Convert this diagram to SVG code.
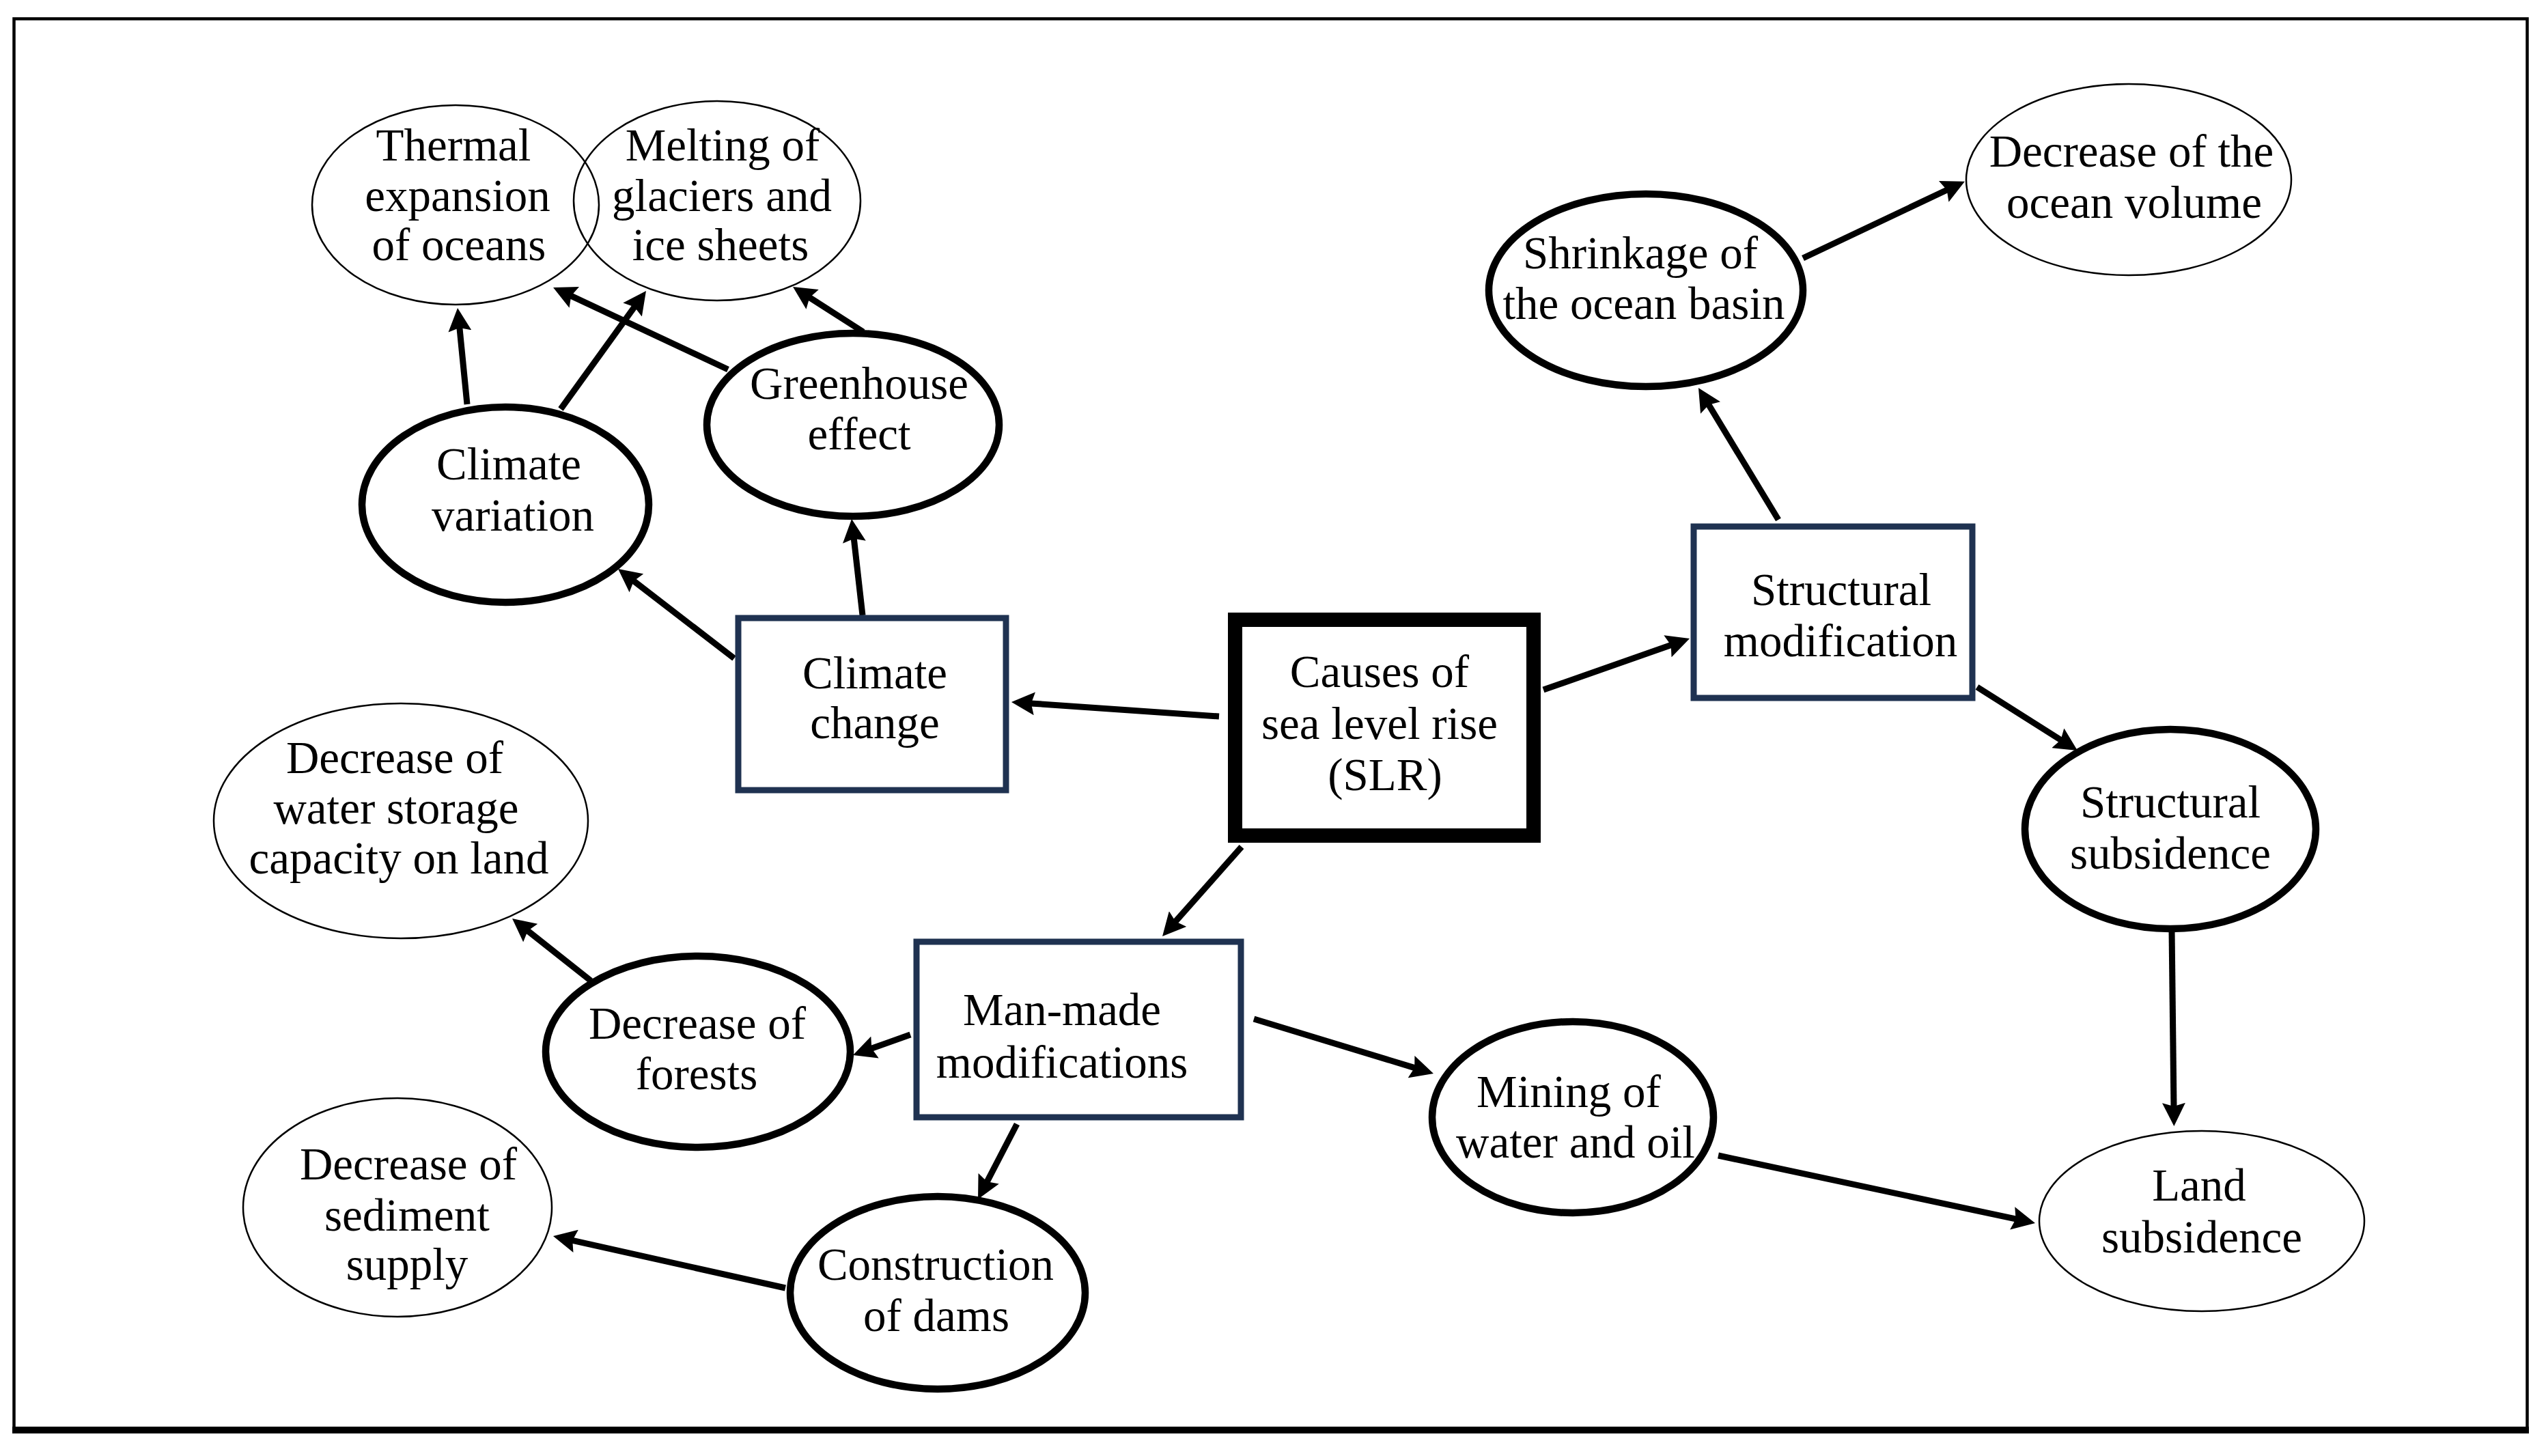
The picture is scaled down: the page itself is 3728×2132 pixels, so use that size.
<svg xmlns="http://www.w3.org/2000/svg" width="3728" height="2132" viewBox="0 0 3728 2132">
<style>
.t{font-family:"Liberation Serif","Times New Roman",serif;font-size:67px;fill:#000;text-anchor:middle}
.thin{fill:none;stroke:#000;stroke-width:2.5}
.thick{fill:none;stroke:#000;stroke-width:10.5}
.box{fill:none;stroke:#1F3251;stroke-width:9}
.main{fill:none;stroke:#000;stroke-width:21}
.c{fill:none;stroke:#000;stroke-width:9;marker-end:url(#ah)}
</style>
<defs>
<marker id="ah" markerUnits="userSpaceOnUse" markerWidth="34" markerHeight="34" refX="6" refY="17" orient="auto">
<path d="M0,0 L34,17 L0,34 L5,17 z" fill="#000"/>
</marker>
</defs>
<rect x="0" y="0" width="3728" height="2132" fill="#fff"/>
<g id="frame">
<rect x="20.5" y="27.5" width="3680" height="2066" fill="none" stroke="#000" stroke-width="4.5"/>
<line x1="18" y1="2094" x2="3703" y2="2094" stroke="#000" stroke-width="10"/>
</g>
<g id="connectors">
<line class="c" x1="684" y1="592" x2="672.8" y2="478.9"/>
<line class="c" x1="821" y1="599" x2="929.6" y2="448.7"/>
<line class="c" x1="1066" y1="541" x2="835.4" y2="432.9"/>
<line class="c" x1="1264" y1="486" x2="1184.6" y2="435.1"/>
<line class="c" x1="1075" y1="964" x2="927.2" y2="850.1"/>
<line class="c" x1="1263" y1="901" x2="1250.2" y2="787.8"/>
<line class="c" x1="1785" y1="1049" x2="1508.9" y2="1029.9"/>
<line class="c" x1="2260" y1="1010" x2="2447.6" y2="944.3"/>
<line class="c" x1="1818" y1="1240" x2="1720.6" y2="1350"/>
<line class="c" x1="2604" y1="761" x2="2501.5" y2="591.9"/>
<line class="c" x1="2640" y1="378" x2="2851.6" y2="277.8"/>
<line class="c" x1="2895" y1="1006" x2="3018.3" y2="1084"/>
<line class="c" x1="3180" y1="1361" x2="3183" y2="1621"/>
<line class="c" x1="1333" y1="1515" x2="1275.4" y2="1535.6"/>
<line class="c" x1="1836" y1="1492" x2="2072.2" y2="1563.9"/>
<line class="c" x1="1489" y1="1646" x2="1444.9" y2="1731.1"/>
<line class="c" x1="865" y1="1436" x2="772" y2="1362.4"/>
<line class="c" x1="1150" y1="1886" x2="837.3" y2="1816.1"/>
<line class="c" x1="2516" y1="1692" x2="2952.6" y2="1785.2"/>
</g>
<g id="thermal">
<ellipse class="thin" cx="667" cy="300" rx="210" ry="146"/>
<text class="t" x="664" y="235">Thermal</text>
<text class="t" x="670" y="309">expansion</text>
<text class="t" x="672" y="381">of oceans</text>
</g>
<g id="melting">
<ellipse class="thin" cx="1050" cy="294" rx="210" ry="146"/>
<text class="t" x="1058" y="235">Melting of</text>
<text class="t" x="1057" y="309">glaciers and</text>
<text class="t" x="1055" y="381">ice sheets</text>
</g>
<g id="climate-variation">
<ellipse class="thick" cx="740" cy="739" rx="210" ry="143"/>
<text class="t" x="745" y="702">Climate</text>
<text class="t" x="751" y="777">variation</text>
</g>
<g id="greenhouse">
<ellipse class="thick" cx="1249" cy="622" rx="214" ry="134"/>
<text class="t" x="1258" y="584">Greenhouse</text>
<text class="t" x="1258" y="658">effect</text>
</g>
<g id="climate-change">
<rect class="box" x="1081" y="905" width="392" height="252"/>
<text class="t" x="1281" y="1008">Climate</text>
<text class="t" x="1281" y="1081">change</text>
</g>
<g id="causes">
<rect class="main" x="1808.5" y="907.5" width="437" height="316"/>
<text class="t" x="2020" y="1006">Causes of</text>
<text class="t" x="2020" y="1082">sea level rise</text>
<text class="t" x="2028" y="1157">(SLR)</text>
</g>
<g id="structural-modification">
<rect class="box" x="2480" y="771" width="408" height="251"/>
<text class="t" x="2696" y="886">Structural</text>
<text class="t" x="2695" y="961">modification</text>
</g>
<g id="shrinkage">
<ellipse class="thick" cx="2410" cy="425" rx="230" ry="141"/>
<text class="t" x="2402" y="393">Shrinkage of</text>
<text class="t" x="2407" y="467">the ocean basin</text>
</g>
<g id="ocean-volume">
<ellipse class="thin" cx="3117" cy="263" rx="238" ry="140"/>
<text class="t" x="3121" y="244">Decrease of the</text>
<text class="t" x="3125" y="319">ocean volume</text>
</g>
<g id="structural-subsidence">
<ellipse class="thick" cx="3178" cy="1214" rx="213" ry="146"/>
<text class="t" x="3178" y="1197">Structural</text>
<text class="t" x="3178" y="1272">subsidence</text>
</g>
<g id="land-subsidence">
<ellipse class="thin" cx="3224" cy="1788" rx="238" ry="132"/>
<text class="t" x="3220" y="1758">Land</text>
<text class="t" x="3224" y="1834">subsidence</text>
</g>
<g id="mining">
<ellipse class="thick" cx="2303" cy="1636" rx="206" ry="140"/>
<text class="t" x="2297" y="1621">Mining of</text>
<text class="t" x="2307" y="1695">water and oil</text>
</g>
<g id="man-made">
<rect class="box" x="1342" y="1379" width="475" height="257"/>
<text class="t" x="1555" y="1501">Man-made</text>
<text class="t" x="1555" y="1578">modifications</text>
</g>
<g id="forests">
<ellipse class="thick" cx="1022" cy="1540" rx="223" ry="140"/>
<text class="t" x="1021" y="1521">Decrease of</text>
<text class="t" x="1020" y="1595">forests</text>
</g>
<g id="water-storage">
<ellipse class="thin" cx="587" cy="1202" rx="274" ry="172"/>
<text class="t" x="578" y="1132">Decrease of</text>
<text class="t" x="580" y="1206">water storage</text>
<text class="t" x="584" y="1279">capacity on land</text>
</g>
<g id="sediment">
<ellipse class="thin" cx="582" cy="1768" rx="226" ry="160"/>
<text class="t" x="598" y="1727">Decrease of</text>
<text class="t" x="596" y="1802">sediment</text>
<text class="t" x="596" y="1874">supply</text>
</g>
<g id="dams">
<ellipse class="thick" cx="1373" cy="1893" rx="216" ry="141"/>
<text class="t" x="1370" y="1874">Construction</text>
<text class="t" x="1371" y="1949">of dams</text>
</g>
</svg>
